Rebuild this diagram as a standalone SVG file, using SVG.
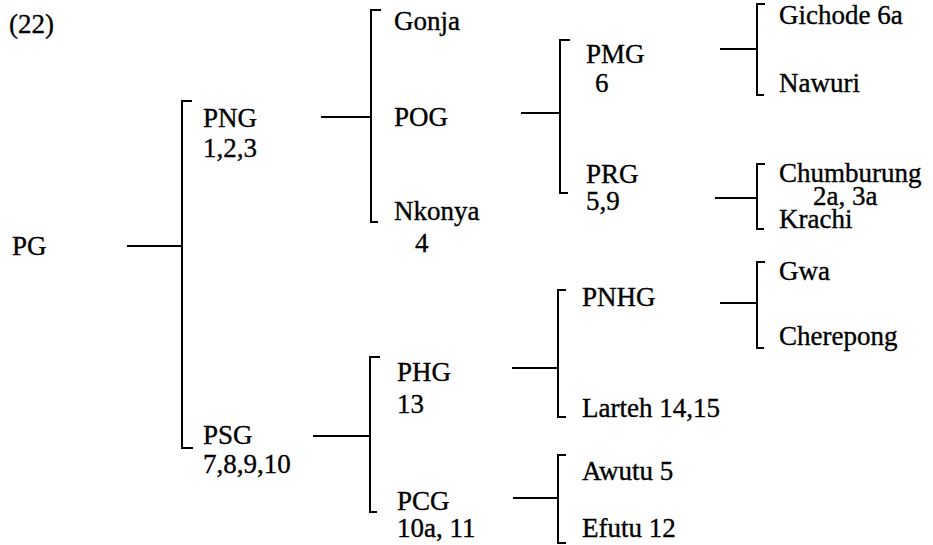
<svg xmlns="http://www.w3.org/2000/svg" width="933" height="545" viewBox="0 0 933 545">
<style>
.t{font-family:"Liberation Serif","Times New Roman",serif;font-size:27px;fill:#000;stroke:#000;stroke-width:0.35}
.c{fill:none;stroke:#000;stroke-width:2}
</style>
<rect width="933" height="545" fill="#fff"/>
<g id="connectors">
<path class="c" d="M127 246H182"/>
<path class="c" d="M192 101H182V448H193"/>
<path class="c" d="M321 117H371"/>
<path class="c" d="M381 10H371V222H378"/>
<path class="c" d="M521 113H560"/>
<path class="c" d="M570 40H560V193H568"/>
<path class="c" d="M720 49H757"/>
<path class="c" d="M765 4H757V95H764"/>
<path class="c" d="M715 198H757"/>
<path class="c" d="M765 164H757V229H764"/>
<path class="c" d="M313 436H370"/>
<path class="c" d="M380 357H370V512H377"/>
<path class="c" d="M512 368H558"/>
<path class="c" d="M566 290H558V417H566"/>
<path class="c" d="M720 303H757"/>
<path class="c" d="M765 262H757V348H764"/>
<path class="c" d="M513 498H558"/>
<path class="c" d="M566 455H558V543H566"/>
</g>
<g id="label-22"><text class="t" x="9" y="33">(22)</text></g>
<g id="node-PG"><text class="t" x="12" y="255">PG</text></g>
<g id="node-PNG"><text class="t" x="203" y="127">PNG</text><text class="t" x="203" y="157">1,2,3</text></g>
<g id="node-PSG"><text class="t" x="203" y="444">PSG</text><text class="t" x="203" y="473">7,8,9,10</text></g>
<g id="node-Gonja"><text class="t" x="394" y="30">Gonja</text></g>
<g id="node-POG"><text class="t" x="394" y="126">POG</text></g>
<g id="node-Nkonya"><text class="t" x="394" y="220">Nkonya</text><text class="t" x="415" y="252">4</text></g>
<g id="node-PMG"><text class="t" x="586" y="63">PMG</text><text class="t" x="595" y="92">6</text></g>
<g id="node-PRG"><text class="t" x="586" y="183">PRG</text><text class="t" x="586" y="210">5,9</text></g>
<g id="node-Gichode"><text class="t" x="779" y="24">Gichode 6a</text></g>
<g id="node-Nawuri"><text class="t" x="779" y="92">Nawuri</text></g>
<g id="node-Chumburung"><text class="t" x="779" y="182">Chumburung</text><text class="t" x="813" y="205">2a, 3a</text></g>
<g id="node-Krachi"><text class="t" x="779" y="228">Krachi</text></g>
<g id="node-PHG"><text class="t" x="397" y="381">PHG</text><text class="t" x="397" y="413">13</text></g>
<g id="node-PCG"><text class="t" x="397" y="510">PCG</text><text class="t" x="397" y="537">10a, 11</text></g>
<g id="node-PNHG"><text class="t" x="582" y="306">PNHG</text></g>
<g id="node-Larteh"><text class="t" x="582" y="417">Larteh 14,15</text></g>
<g id="node-Gwa"><text class="t" x="779" y="280">Gwa</text></g>
<g id="node-Cherepong"><text class="t" x="779" y="345">Cherepong</text></g>
<g id="node-Awutu"><text class="t" x="582" y="480">Awutu 5</text></g>
<g id="node-Efutu"><text class="t" x="582" y="537">Efutu 12</text></g>
</svg>
